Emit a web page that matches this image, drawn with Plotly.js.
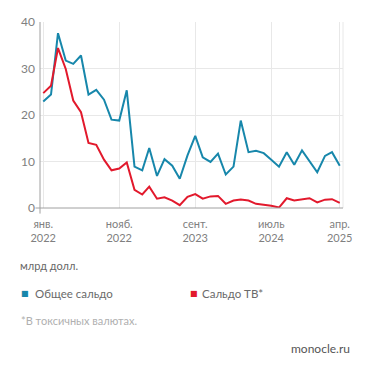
<!DOCTYPE html>
<html>
<head>
<meta charset="utf-8">
<script src="https://cdn.plot.ly/plotly-3.0.1.min.js"></script>
<style>
html,body{margin:0;padding:0;background:#fff;}
#chart{width:371px;height:370px;}
</style>
</head>
<body>
<div id="chart"></div>
<script>
// Monthly, Jan 2022 .. Apr 2025
var months = [];
(function(){
  for (var y = 2022; y <= 2025; y++) {
    for (var m = 1; m <= 12; m++) {
      if (y === 2025 && m > 4) break;
      months.push(y + '-' + (m < 10 ? '0' + m : m) + '-01');
    }
  }
})();

var totalBalance = [22.9, 24.4, 37.6, 31.7, 31.0, 32.8, 24.4, 25.4, 23.3, 19.0,
                    18.8, 25.3, 8.9, 8.1, 12.9, 6.9, 10.5, 9.1, 6.3, 11.3,
                    15.5, 10.9, 9.9, 11.7, 7.2, 8.9, 18.8, 12.0, 12.3, 11.8,
                    10.4, 8.9, 12.0, 9.3, 12.4, 10.0, 7.7, 11.2, 12.0, 9.1];
var toxicBalance = [24.7, 26.3, 34.4, 29.9, 23.1, 20.6, 14.0, 13.6, 10.4, 8.1,
                    8.5, 9.8, 3.9, 2.9, 4.6, 2.0, 2.3, 1.6, 0.6, 2.4,
                    3.0, 2.0, 2.5, 2.6, 0.9, 1.6, 1.8, 1.6, 0.9, 0.7,
                    0.5, 0.1, 2.1, 1.6, 1.8, 2.1, 1.2, 1.8, 1.9, 1.1];

var tickDates = ['2022-01-01', '2022-11-01', '2023-09-01', '2024-07-01', '2025-04-01'];
var tickLabels = ['янв.<br>2022', 'нояб.<br>2022', 'сент.<br>2023', 'июль<br>2024', 'апр.<br>2025'];
var yTicks = [0, 10, 20, 30, 40];

var seriesNames = ['Общее сальдо', 'Сальдо ТВ*'];
var blue = '#1787ab';
var red = '#e2192c';

var traces = [
  {x: months, y: totalBalance, type: 'scatter', mode: 'lines', name: seriesNames[0],
   line: {color: blue, width: 2}, hoverinfo: 'skip'},
  {x: months, y: toxicBalance, type: 'scatter', mode: 'lines', name: seriesNames[1],
   line: {color: red, width: 2}, hoverinfo: 'skip'}
];

var fontFam = 'Lato, "Open Sans", sans-serif';
var layout = {
  width: 371, height: 370,
  margin: {l: 40, r: 28, t: 22, b: 162},
  paper_bgcolor: '#fff', plot_bgcolor: '#fff',
  showlegend: false,
  font: {family: fontFam, color: '#808080', size: 12},
  xaxis: {
    type: 'date',
    range: ['2021-12-19', '2025-04-14'],
    tickvals: tickDates, ticktext: tickLabels,
    showgrid: true, gridcolor: '#e8e8e8', gridwidth: 1,
    zeroline: false, showline: false, ticks: '',
    ticklabelstandoff: 8,
    tickfont: {family: fontFam, size: 11, color: '#808080'},
    fixedrange: true
  },
  yaxis: {
    range: [0, 40], tickvals: yTicks,
    showgrid: true, gridcolor: '#e8e8e8', gridwidth: 1,
    zeroline: false, showline: false, ticks: '',
    ticklabelstandoff: 4,
    tickfont: {family: fontFam, size: 12, color: '#808080'},
    fixedrange: true
  },
  shapes: [
    {type: 'line', xref: 'paper', yref: 'paper', x0: 1, x1: 1, y0: 0, y1: 1,
     line: {color: '#e8e8e8', width: 1}, layer: 'below'},
    {type: 'line', xref: 'paper', yref: 'paper', x0: 0, x1: 0, y0: -0.03, y1: 1,
     line: {color: '#a0a0a0', width: 1}},
    {type: 'line', xref: 'paper', yref: 'paper', x0: -0.015, x1: 1, y0: 0, y1: 0,
     line: {color: '#a0a0a0', width: 1}}
  ],
  annotations: [
    {xref: 'paper', yref: 'paper', x: -0.073, y: -0.31, xanchor: 'left', yanchor: 'middle',
     text: 'млрд долл.', showarrow: false, font: {family: fontFam, size: 11, color: '#666'}},
    {xref: 'paper', yref: 'paper', x: -0.068, y: -0.46, xanchor: 'left', yanchor: 'middle',
     text: '■', showarrow: false, font: {family: 'DejaVu Sans', size: 8, color: blue}},
    {xref: 'paper', yref: 'paper', x: -0.023, y: -0.46, xanchor: 'left', yanchor: 'middle',
     text: seriesNames[0], showarrow: false, font: {family: fontFam, size: 11.5, color: '#6a6a6a'}},
    {xref: 'paper', yref: 'paper', x: 0.487, y: -0.46, xanchor: 'left', yanchor: 'middle',
     text: '■', showarrow: false, font: {family: 'DejaVu Sans', size: 8, color: red}},
    {xref: 'paper', yref: 'paper', x: 0.528, y: -0.46, xanchor: 'left', yanchor: 'middle',
     text: seriesNames[1], showarrow: false, font: {family: fontFam, size: 11.5, color: '#6a6a6a'}},
    {xref: 'paper', yref: 'paper', x: -0.068, y: -0.605, xanchor: 'left', yanchor: 'middle',
     text: '*В токсичных валютах.', showarrow: false, font: {family: fontFam, size: 11, color: '#b0b0b0'}},
    {xref: 'paper', yref: 'paper', x: 1.03, y: -0.755, xanchor: 'right', yanchor: 'middle',
     text: 'monocle.ru', showarrow: false, font: {family: fontFam, size: 12, color: '#555'}}
  ]
};

Plotly.newPlot('chart', traces, layout, {displayModeBar: false, staticPlot: true});
</script>
</body>
</html>
